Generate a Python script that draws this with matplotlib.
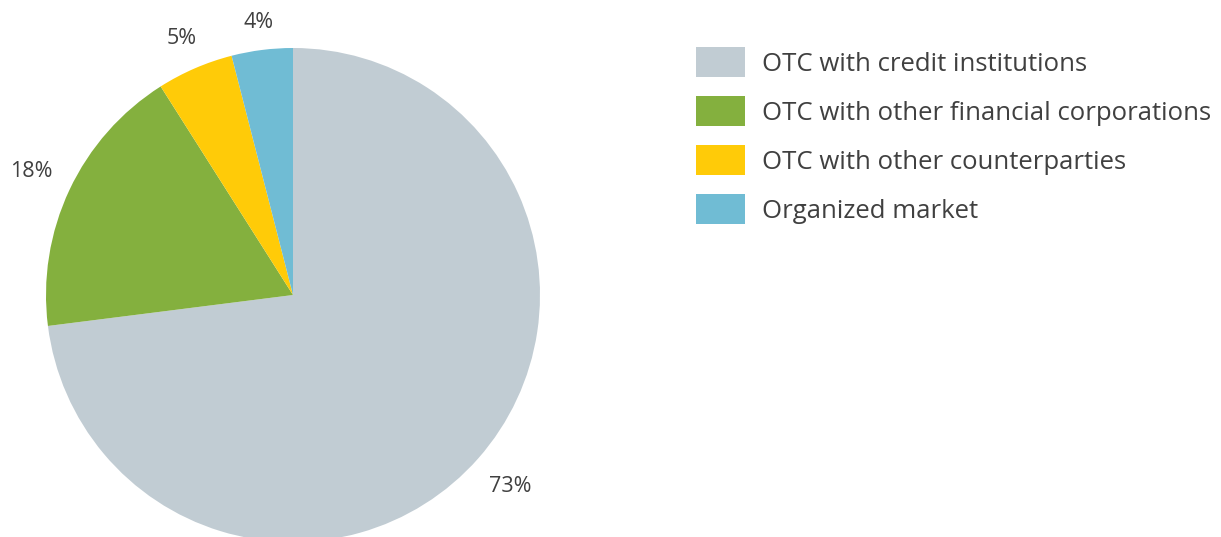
import numpy as np
import matplotlib.pyplot as plt

plt.rcParams['font.family'] = ['Open Sans', 'DejaVu Sans']

labels = ['OTC with credit institutions', 'OTC with other financial corporations',
          'OTC with other counterparties', 'Organized market']
shares = [73, 18, 5, 4]
colors = ['#c1ccd3', '#84b03e', '#ffcb08', '#70bcd4']
txt_col = '#404040'
# how far out each percentage sits (in radii)
lab_dist = [1.17, 1.17, 1.13, 1.11]

fig = plt.figure(figsize=(12.21, 5.37), dpi=100)
# pie axes placed in pixel terms: centre ~ (293, 295), radius ~247
ax = fig.add_axes([46/1221, (537-542)/537, 494/1221, 494/537])
wedges, texts = ax.pie(shares, colors=colors, startangle=90, counterclock=False,
                       radius=1, labels=[f'{s}%' for s in shares], labeldistance=1.0,
                       wedgeprops=dict(linewidth=0))
for t, w, d in zip(texts, wedges, lab_dist):
    ang = np.deg2rad((w.theta1 + w.theta2) / 2)
    t.set_position((d*np.cos(ang), d*np.sin(ang)))
    t.set_ha('center')
    t.set_va('center')
    t.set_fontsize(15.5)
    t.set_color(txt_col)
ax.set_xlim(-1, 1)
ax.set_ylim(-1, 1)
ax.set_aspect('equal')
ax.axis('off')

leg = fig.legend(wedges, labels, loc='upper left', bbox_to_anchor=(696/1221, 1-47/537),
                 frameon=False, fontsize=18.5, handlelength=1.9, handleheight=1.42,
                 handletextpad=0.68, labelspacing=0.74, borderpad=0, borderaxespad=0)
for t in leg.get_texts():
    t.set_color(txt_col)

fig.savefig('out.png', dpi=100)
